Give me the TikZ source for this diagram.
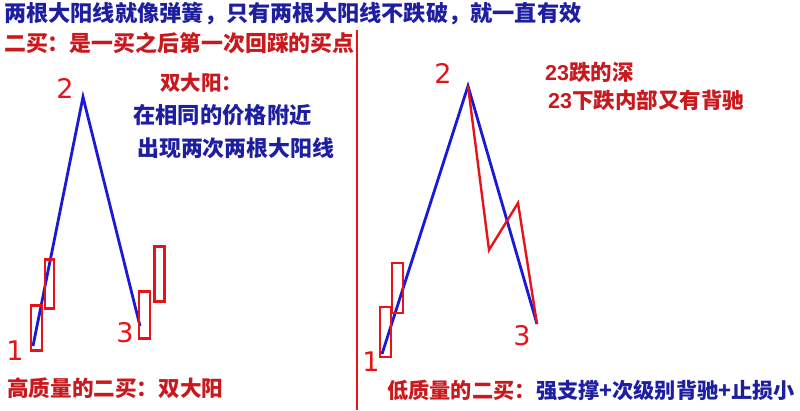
\documentclass[tikz,border=0pt]{standalone}
\usepackage{fontspec}
\setmainfont{Noto Sans CJK SC}
\newfontfamily\digitfont{DejaVu Sans}
\newfontfamily\arialfont{Liberation Sans}
\definecolor{tblue}{RGB}{30,30,160}
\definecolor{tred}{RGB}{200,25,30}
\definecolor{lblue}{RGB}{25,25,215}
\definecolor{lred}{RGB}{230,20,25}
\tikzset{
  txt/.style={anchor=west,inner sep=0pt,font=\bfseries\fontsize{#1}{#1}\selectfont},
  bluetxt/.style={txt=#1,text=tblue},
  redtxt/.style={txt=#1,text=tred},
  hand/.style={inner sep=0pt,text=lred,font=\digitfont\fontsize{27}{27}\selectfont},
  trend/.style={draw=lblue,line width=2.8pt,line join=miter},
  zig/.style={draw=lred,line width=2.4pt,line join=miter},
  candle/.style={draw=lred,line width=2.3pt,inner sep=0pt},
  divider/.style={draw=lred,line width=1.2pt}
}
\begin{document}
\begin{tikzpicture}[x=1pt,y=-1pt]
\useasboundingbox[fill=white] (0,0) rectangle (800,410);
% titles
\node[bluetxt=22.2] (t1) at (4,14) {两根大阳线就像弹簧，只有两根大阳线不跌破，就一直有效};
\node[redtxt=21.9] (t2) at (4,43) {二买：是一买之后第一次回踩的买点};
% divider
\coordinate (dtop) at (357,30);
\coordinate (dbot) at (357,410);
\draw[divider] (dtop) -- (dbot);
% left annotation
\node[redtxt=20.5] (sdy) at (160,83) {双大阳：};
\node[bluetxt=22.3] (a1) at (133,115) {在相同的价格附近};
\node[bluetxt=21.9] (a2) at (137,148) {出现两次两根大阳线};
% left diagram
\coordinate (L1) at (33,346);
\coordinate (L2) at (83,97);
\coordinate (L3) at (140,326);
\draw[trend] (L1) -- (L2) -- (L3);
\node[candle,minimum width=11pt,minimum height=45pt] (lc1) at (36.5,328) {};
\node[candle,minimum width=9pt,minimum height=49pt] (lc2) at (49.5,284) {};
\node[candle,minimum width=11pt,minimum height=47pt] (lc3) at (144.5,315) {};
\node[candle,minimum width=10pt,minimum height=55pt] (lc4) at (159.5,274) {};
\node[hand] (ln1) at (15,351) {1};
\node[hand] (ln2) at (65,88) {2};
\node[hand] (ln3) at (125,333) {3};
% right annotation
\node[redtxt=21.5] (r1) at (545,72) {{\arialfont 23}跌的深};
\node[redtxt=21.5] (r2) at (548,100) {{\arialfont 23}下跌内部又有背驰};
% right diagram
\coordinate (R1) at (382,354);
\coordinate (R2) at (468,86);
\coordinate (R3) at (537,324);
\coordinate (Z1) at (489,250);
\coordinate (Z2) at (518,203);
\draw[trend] (R1) -- (R2) -- (R3);
\draw[zig] (R2) -- (Z1) -- (Z2) -- (R3);
\node[candle,minimum width=11pt,minimum height=50pt] (rc1) at (385.5,332) {};
\node[candle,minimum width=11pt,minimum height=50pt] (rc2) at (397.5,288) {};
\node[hand] (rn1) at (371,362) {1};
\node[hand] (rn2) at (443,73) {2};
\node[hand] (rn3) at (522,336) {3};
% bottom texts
\node[redtxt=21.6] (b1) at (7,388) {高质量的二买：双大阳};
\node[redtxt=21.2] (b2) at (387,390) {低质量的二买：};
\node[bluetxt=21.2,anchor=west] (b3) at (b2.east) {强支撑+次级别背驰+止损小};
\end{tikzpicture}
\end{document}
